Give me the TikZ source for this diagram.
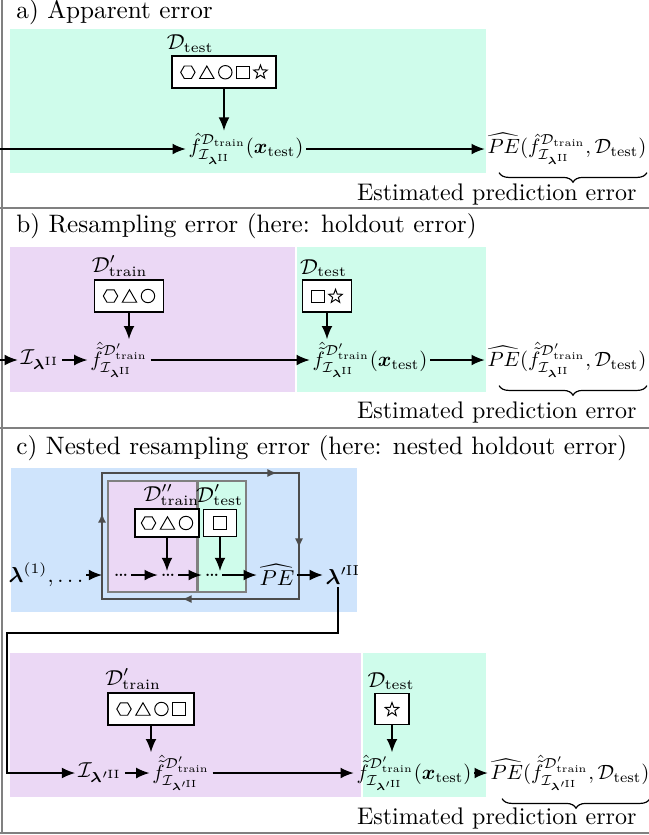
\documentclass[tikz,border=0pt]{standalone}
\usepackage{amsmath}
\usepackage{amssymb}
\usepackage{bm}
\usetikzlibrary{
    arrows.meta,
    positioning,
    decorations.pathreplacing,
    decorations.markings
}

\definecolor{testgreen}{RGB}{207,252,235}
\definecolor{trainviolet}{RGB}{235,216,245}
\definecolor{tuneblue}{RGB}{207,228,252}

% data symbols
\newcommand{\symhex}{\tikz[baseline=-2.6pt,line width=0.4pt]\draw (0:3pt)--(60:3pt)--(120:3pt)--(180:3pt)--(240:3pt)--(300:3pt)--cycle;}
\newcommand{\symtri}{\tikz[baseline=-2.6pt,line width=0.4pt]\draw (0pt,2.6pt)--(-3pt,-2.6pt)--(3pt,-2.6pt)--cycle;}
\newcommand{\symcirc}{\tikz[baseline=-2.6pt,line width=0.4pt]\draw (0pt,0pt) circle (2.8pt);}
\newcommand{\symsq}{\tikz[baseline=-2.6pt,line width=0.4pt]\draw (-2.6pt,-2.6pt) rectangle (2.6pt,2.6pt);}
\newcommand{\symstar}{\tikz[baseline=-2.6pt,line width=0.4pt]\draw (90:3pt)--(126:1.25pt)--(162:3pt)--(198:1.25pt)--(234:3pt)--(270:1.25pt)--(306:3pt)--(342:1.25pt)--(18:3pt)--(54:1.25pt)--cycle;}
\newcommand{\gap}{\hspace{1.5pt}}

% math shorthands
\newcommand{\Dte}{\mathcal{D}_{\text{test}}}
\newcommand{\Ilam}{\mathcal{I}_{\bm{\lambda}^{\text{II}}}}
\newcommand{\Ilamp}{\mathcal{I}_{\bm{\lambda}'^{\text{II}}}}
\newcommand{\xte}{\bm{x}_{\text{test}}}
\newcommand{\modelmath}[1]{\scalebox{0.86}{$#1$}}

\tikzset{
    flow/.style={-{Latex[length=5.5pt,width=4.5pt]}, line width=0.6pt},
    databox/.style={draw, line width=0.6pt, fill=white, inner xsep=3.5pt, inner ysep=3.6pt},
    smallbox/.style={draw, line width=0.6pt, fill=white, inner xsep=2.5pt, inner ysep=2.8pt},
    setlabel/.style={inner sep=0pt, font=\small},
    term/.style={inner sep=1pt, font=\small},
    model/.style={inner sep=1pt},
    heading/.style={anchor=base west, font=\fontsize{10.5pt}{12.5pt}\selectfont},
    sepline/.style={draw=gray, line width=0.8pt},
    estbrace/.style={decorate, decoration={brace, mirror, amplitude=4pt}, line width=0.5pt},
    looppath/.style={draw=black!70, line width=0.8pt, postaction={decorate},
        decoration={markings,
            mark=at position 0.133 with {\arrow{Latex[length=4pt,width=3.4pt]}},
            mark=at position 0.466 with {\arrow{Latex[length=4pt,width=3.4pt]}},
            mark=at position 0.616 with {\arrow{Latex[length=4pt,width=3.4pt]}},
            mark=at position 0.876 with {\arrow{Latex[length=4pt,width=3.4pt]}}}}
}

\begin{document}
\begin{tikzpicture}[x=0.4167pt, y=-0.4167pt]
\useasboundingbox (0,0) rectangle (649,835);

% Frame
\draw[sepline] (2,0) -- (2,833);
\foreach \y in {208,428,833}
  \draw[sepline] (0,\y) -- (649,\y);

% a) Apparent error
\node[heading] (titlea) at (8,18) {a) Apparent error};
\fill[testgreen] (10,29) rectangle (486,173);
\node[databox] (boxa) at (224,72) {\symhex\gap\symtri\gap\symcirc\gap\symsq\gap\symstar};
\node[setlabel, above right=1pt and -2pt of boxa.north west] (labela) {$\Dte$};
\node[model] (fa) at (246,149) {\modelmath{\hat{f}^{\mathcal{D}_{\text{train}}}_{\Ilam}(\xte)}};
\node[model] (pea) at (567,149) {\modelmath{\widehat{PE}(\hat{f}^{\mathcal{D}_{\text{train}}}_{\Ilam}, \Dte)}};
\coordinate (ina) at (0,149);
\draw[flow] (ina) -- (fa);
\draw[flow] (fa) -- (pea);
\draw[flow] (boxa) -- (boxa.south |- fa.north);
\draw[estbrace] ([xshift=6pt,yshift=-2pt]pea.south west) -- ([xshift=-1pt,yshift=-2pt]pea.south east);
\node[anchor=base east] (esta) at (645,200) {Estimated prediction error};

% b) Resampling error
\node[heading] (titleb) at (8,232) {b) Resampling error (here: holdout error)};
\fill[trainviolet] (10,247) rectangle (295,392);
\fill[testgreen] (297,247) rectangle (486,392);
\node[databox] (boxb1) at (129,296) {\symhex\gap\symtri\gap\symcirc};
\node[setlabel, above right=1pt and -1pt of boxb1.north west] (labelb1) {$\mathcal{D}'_{\text{train}}$};
\node[databox] (boxb2) at (327,296) {\symsq\gap\symstar};
\node[setlabel, above right=1pt and -1pt of boxb2.north west] (labelb2) {$\Dte$};
\node[term] (ib) at (40,360) {$\Ilam$};
\node[model] (fb1) at (119,360) {\modelmath{\hat{\tilde{f}}^{\mathcal{D}'_{\text{train}}}_{\Ilam}}};
\node[model] (fb2) at (370,360) {\modelmath{\hat{\tilde{f}}^{\mathcal{D}'_{\text{train}}}_{\Ilam}(\xte)}};
\node[model] (peb) at (567,360) {\modelmath{\widehat{PE}(\hat{\tilde{f}}^{\mathcal{D}'_{\text{train}}}_{\Ilam}, \Dte)}};
\coordinate (inb) at (0,360);
\draw[flow] (inb) -- (ib);
\draw[flow] (ib) -- (fb1);
\draw[flow] (fb1) -- (fb2);
\draw[flow] (fb2) -- (peb);
\draw[flow] (boxb1) -- (boxb1.south |- fb1.north);
\draw[flow] (boxb2) -- (boxb2.south |- fb2.north);
\draw[estbrace] ([xshift=6pt,yshift=-2pt]peb.south west) -- ([xshift=-1pt,yshift=-2pt]peb.south east);
\node[anchor=base east] (estb) at (645,418) {Estimated prediction error};

% c) Nested resampling error
\node[heading] (titlec) at (8,454) {c) Nested resampling error (here: nested holdout error)};
\fill[tuneblue] (11,468) rectangle (357,612);
\filldraw[fill=trainviolet, draw=gray, line width=0.8pt] (108,481) rectangle (197,592);
\filldraw[fill=testgreen, draw=gray, line width=0.8pt] (198,481) rectangle (246,592);
\draw[looppath] (102,599) -- (102,473) -- (299,473) -- (299,599) -- cycle;
\node[smallbox] (boxc1) at (167,523) {\symhex\gap\symtri\gap\symcirc};
\node[setlabel, above left=1pt and 0pt of boxc1.north east] (labelc1) {$\mathcal{D}''_{\text{train}}$};
\node[smallbox, inner xsep=4pt] (boxc2) at (220,523) {\symsq};
\node[setlabel, above right=1pt and -3pt of boxc2.north west] (labelc2) {$\mathcal{D}'_{\text{test}}$};
\node[term] (lamc1) at (46,575) {$\bm{\lambda}^{(1)}, \ldots$};
\node[term] (dots1) at (121,575) {\ldots};
\node[term] (dots2) at (168,575) {\ldots};
\node[term] (dots3) at (212,575) {\ldots};
\node[term] (pec) at (277,575) {$\widehat{PE}$};
\node[term] (lamc2) at (343,575) {$\bm{\lambda}'^{\text{II}}$};
\coordinate (loopw) at (102,575);
\draw[flow] (lamc1) -- (loopw);
\draw[flow] (dots1) -- (dots2);
\draw[flow] (dots2) -- (dots3);
\draw[flow] (dots3) -- (pec);
\draw[flow] (pec) -- (lamc2);
\draw[flow] (boxc1) -- (boxc1.south |- dots2.north);
\draw[flow] (boxc2) -- (boxc2.south |- dots3.north);

% final fit with the tuned configuration
\fill[trainviolet] (10,653) rectangle (361,797);
\fill[testgreen] (363,653) rectangle (486,797);
\node[databox] (boxd1) at (151,709) {\symhex\gap\symtri\gap\symcirc\gap\symsq};
\node[setlabel, above right=1pt and -1pt of boxd1.north west] (labeld1) {$\mathcal{D}'_{\text{train}}$};
\node[databox, inner xsep=4pt] (boxd2) at (392,709) {\symstar};
\node[setlabel, above right=1pt and -3pt of boxd2.north west] (labeld2) {$\Dte$};
\node[term] (id) at (100,773) {$\Ilamp$};
\node[model] (fd1) at (181,773) {\modelmath{\hat{\tilde{f}}^{\mathcal{D}'_{\text{train}}}_{\Ilamp}}};
\node[model] (fd2) at (414,773) {\modelmath{\hat{\tilde{f}}^{\mathcal{D}'_{\text{train}}}_{\Ilamp}(\xte)}};
\node[model] (ped) at (570,773) {\modelmath{\widehat{PE}(\hat{\tilde{f}}^{\mathcal{D}'_{\text{train}}}_{\Ilamp}, \Dte)}};
\coordinate (backc) at (7,633);
\draw[flow] ([xshift=-2pt]lamc2.south) |- (backc) |- (id);
\draw[flow] (id) -- (fd1);
\draw[flow] (fd1) -- (fd2);
\draw[flow] (fd2) -- (ped);
\draw[flow] (boxd1) -- (boxd1.south |- fd1.north);
\draw[flow] (boxd2) -- (boxd2.south |- fd2.north);
\draw[estbrace] ([xshift=6pt,yshift=-2pt]ped.south west) -- ([xshift=-1pt,yshift=-2pt]ped.south east);
\node[anchor=base east] (estd) at (645,824) {Estimated prediction error};

\end{tikzpicture}
\end{document}
